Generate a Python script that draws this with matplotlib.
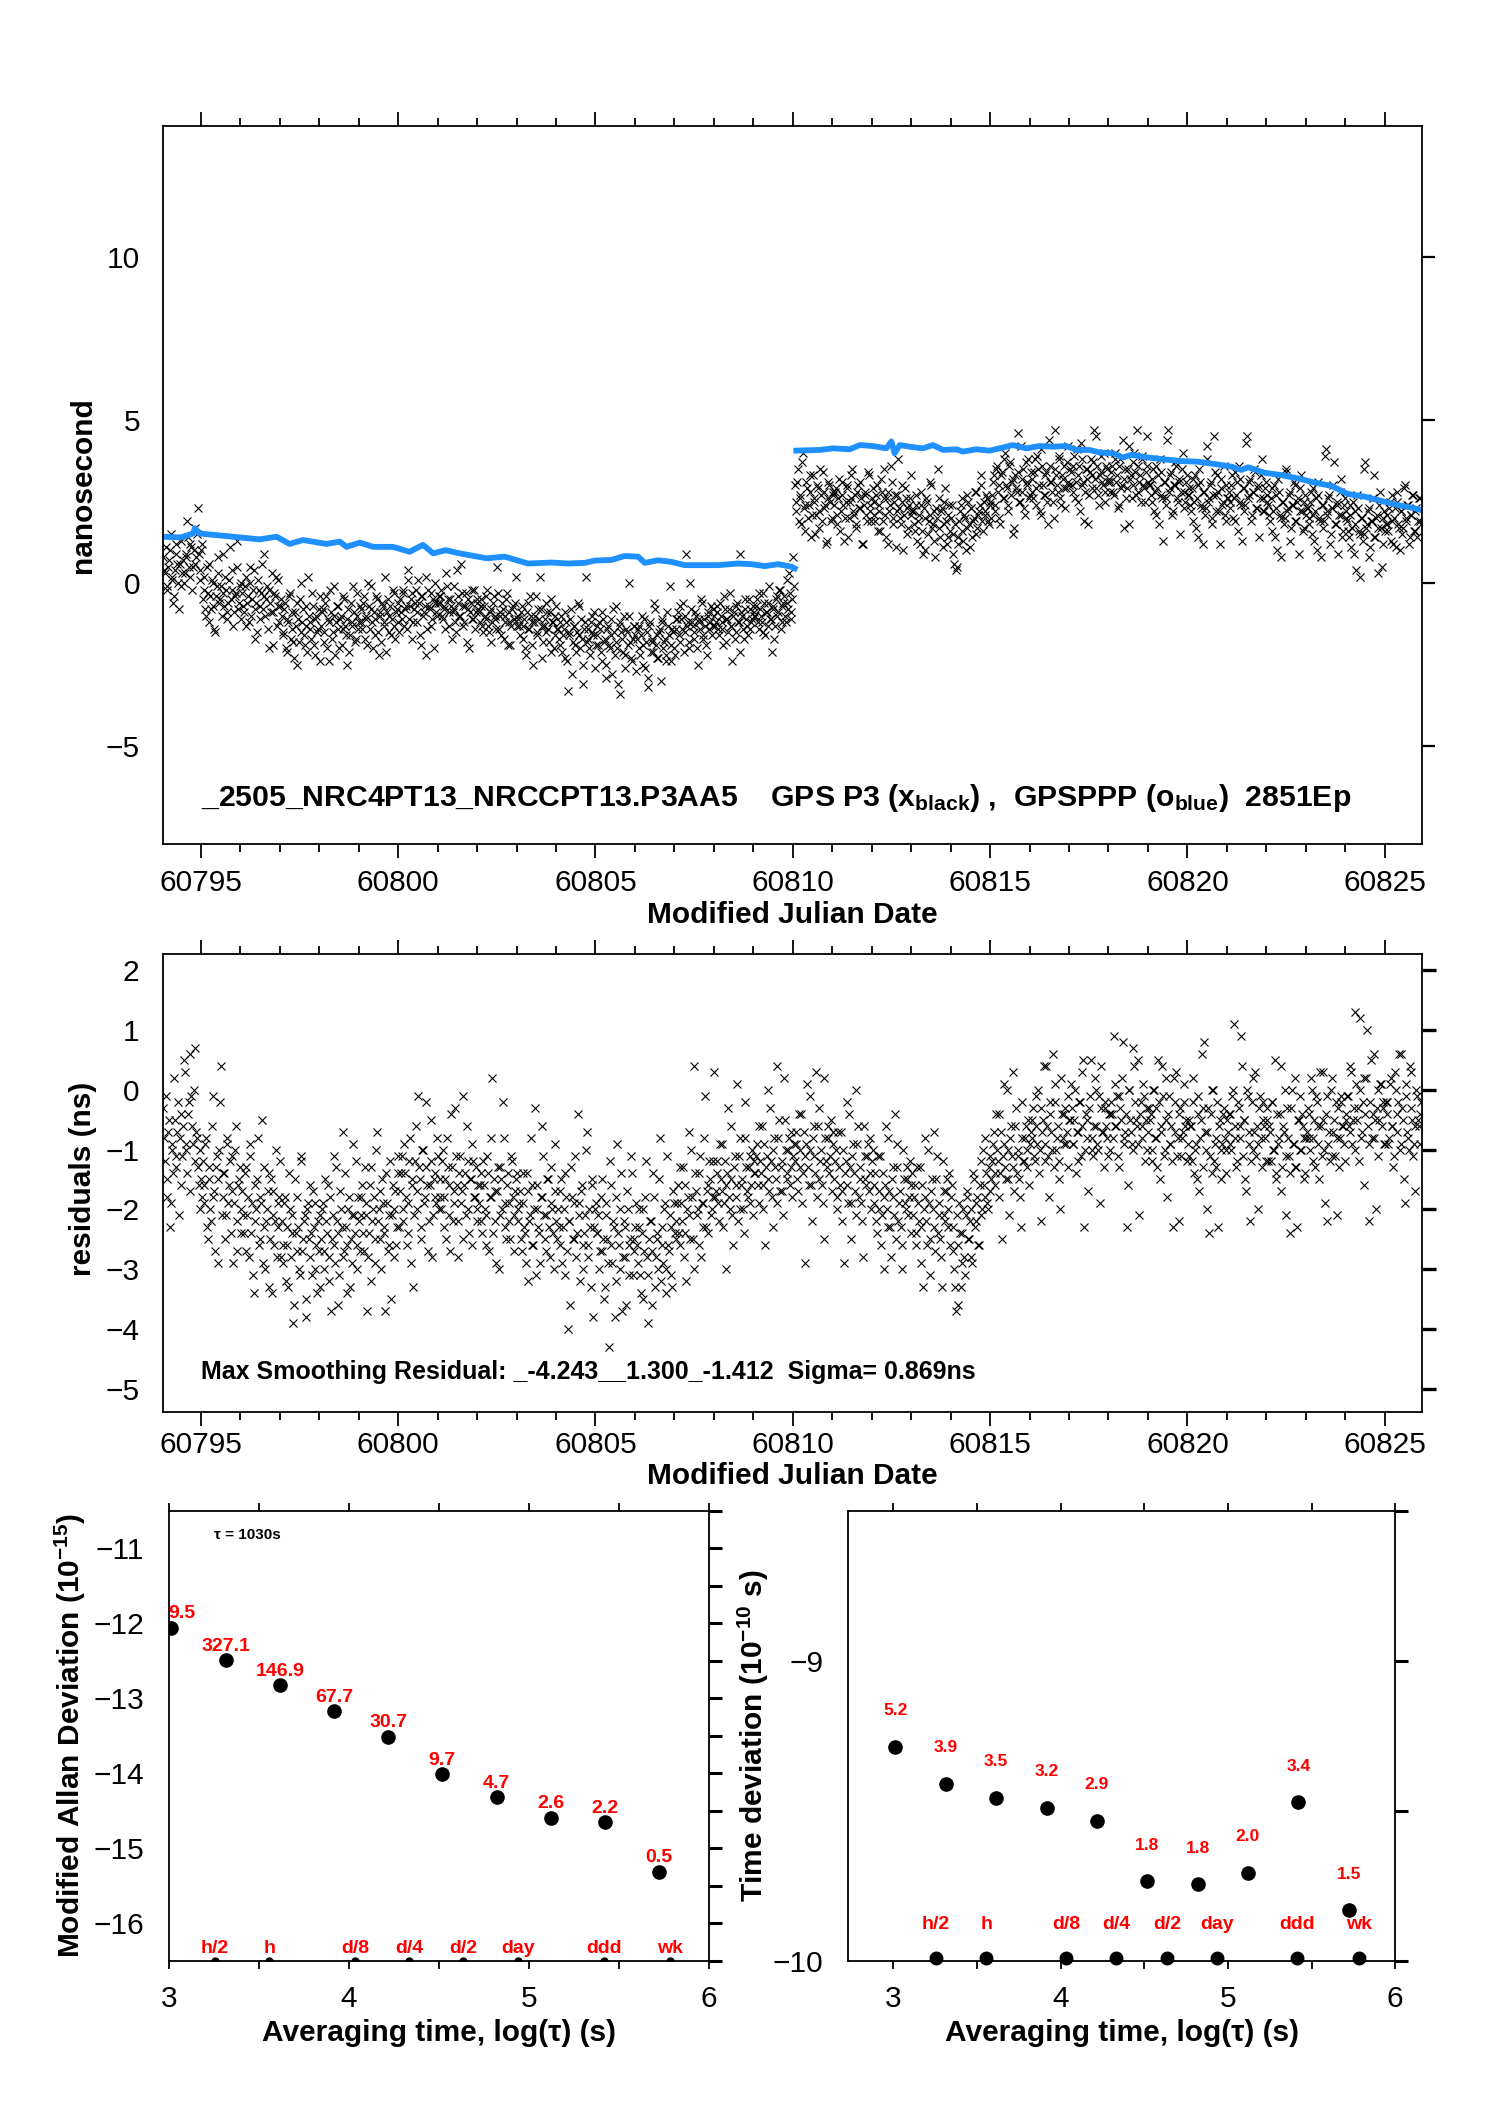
import numpy as np
import matplotlib
matplotlib.use("Agg")
import matplotlib.pyplot as plt
from matplotlib.ticker import MultipleLocator, FormatStrFormatter

plt.rcParams['font.family'] = ['Liberation Sans', 'DejaVu Sans']
plt.rcParams['mathtext.fontset'] = 'custom'
plt.rcParams['mathtext.rm'] = 'Liberation Sans'
plt.rcParams['mathtext.bf'] = 'Liberation Sans:bold'
plt.rcParams['mathtext.it'] = 'Liberation Sans:italic'

# GPS P3 samples, one per hour from T0, values in 0.1 ns (one row per day)
T0 = 60794.05
DT = 1.0 / 24
P3_ROWS = [
    "8 3 -2 5 10 1 -6 4 12 0 6 -1 7 3 9 14 2 11 5 17 8 23 4 10",
    "-5 2 -10 -3 6 -8 0 -14 -4 3 -6 -1 9 -7 -2 -11 1 -5 4 -9 -3 13 -6 0",
    "-3 -9 2 -6 -12 0 -5 4 -8 -15 -2 -7 6 -4 -10 -1 -20 -6 3 -9 -4 -13 1 -7",
    "-10 -16 -6 -21 -12 -3 -14 -18 -9 -25 -11 -5 -15 -8 -19 -13 2 -12 -17 -7 -22 -10 -14 -4",
    "-13 -8 -18 -4 -11 -24 -9 -15 -1 -12 -7 -20 -10 -14 -5 -16 -11 -21 -6 -13 -9 -17 -3 -12",
    "-8 -14 -4 -11 -19 -7 -1 -12 -9 -16 -5 -22 -10 -6 -13 2 -9 -15 -7 -11 -3 -17 -8 -12",
    "-5 -11 -2 -8 -14 4 -7 -3 -12 -6 -9 1 -16 -4 -10 -7 -22 -2 -8 -13 -5 0 -9 -6",
    "-6 -2 -11 -8 3 -5 -13 -7 -9 -1 -15 -4 -10 6 -7 -12 -3 -8 -20 -6 -11 -2 -9 -5",
    "-9 -5 -13 -7 -11 -2 -15 -8 -12 -4 -10 5 -14 -9 -6 -17 -10 -3 -12 -19 -8 -11 -6 -13",
    "-11 -16 -7 -13 -20 -9 -14 -4 -12 -25 -10 -15 -8 2 -13 -18 -11 -6 -14 -9 -21 -12 -16 -7",
    "-14 -19 -10 -16 -23 -12 -33 -15 -8 -18 -13 -21 -6 -16 -11 -25 -14 2 -17 -20 -12 -15 -9 -19",
    "-16 -12 -21 -9 -18 -25 -14 -19 -11 -28 -15 -7 -20 -13 -34 -17 -10 -22 -15 0 -18 -24 -13 -16",
    "-17 -13 -22 -10 -19 -26 -15 -32 -12 -18 -21 -8 -16 -23 -14 -11 -20 -17 -24 -13 -1 -19 -15 -22",
    "-14 -9 -18 -11 -6 -15 9 -12 -20 -8 -13 -17 -10 -25 -12 -5 -16 -11 -19 -9 -14 -7 -13 -10",
    "-12 -7 -16 -10 -14 -4 -18 -11 -8 -13 -24 -9 -15 -6 -12 9 -10 -17 -8 -13 -5 -14 -11 -9",
    "-10 -5 -14 -8 -12 -3 -16 -9 -6 -11 -21 -7 -13 -4 -9 -2 -12 -6 -10 1 -8 -3 -11 8",
    "30 22 35 26 18 40 24 31 20 28 14 33 25 21 29 17 27 34 23 12 26 30 19 28",
    "24 29 18 32 22 27 13 25 30 20 26 35 21 17 28 23 31 12 24 27 19 33 22 26",
    "25 19 30 22 16 28 35 21 26 12 24 31 18 27 22 38 20 25 10 29 23 17 26 21",
    "22 16 27 19 12 24 9 20 26 15 21 30 18 13 23 35 17 22 11 25 19 14 24 20",
    "15 6 4 12 19 24 16 21 10 27 18 23 14 20 28 17 22 33 19 25 21 26 18 24",
    "27 33 22 36 30 18 34 26 40 29 24 37 31 15 33 28 46 25 32 35 21 30 38 27",
    "32 26 38 29 35 22 41 30 27 34 18 36 31 25 47 33 28 39 24 32 36 29 42 30",
    "34 28 39 31 25 36 43 30 19 35 32 27 38 33 47 29 36 24 34 31 40 28 35 32",
    "31 36 27 40 33 24 38 30 17 35 29 42 32 26 37 34 47 28 33 39 30 25 36 31",
    "30 25 35 28 21 33 38 27 13 31 26 47 29 34 22 30 36 25 32 28 40 23 31 27",
    "27 22 32 25 17 30 35 24 12 28 23 38 26 31 20 45 27 33 22 29 24 36 19 26",
    "28 23 33 26 19 31 36 25 13 29 24 45 27 32 21 28 34 23 30 26 38 22 29 25",
    "24 19 29 22 14 27 32 21 8 25 20 35 23 28 17 24 30 19 26 22 33 16 25 21",
    "23 18 28 21 13 26 31 20 8 24 19 41 22 27 15 23 37 18 25 21 32 14 24 20",
    "19 14 24 17 9 22 27 16 2 20 15 37 18 23 11 19 33 14 21 17 28 5 20 16",
    "21 16 25 19 12 23 28 18 10 22 17 30 20 24 14 21 27 16 23 19 26 18",
]
# second set, half an hour later
P3_ROWS_B = [
    "4 11 -1 7 15 2 -4 9 6 -8 13 3 0 8 19 5 12 -2 10 6 15 9 1 12",
    "-2 -8 5 -12 -4 1 -7 -15 -1 8 -5 -10 -3 2 -9 -6 11 -2 -13 -4 5 -8 -1 -11",
    "-7 -1 -13 -4 5 -10 -2 -17 -6 1 -11 -3 -8 9 -5 -14 -2 -9 -19 -3 2 -7 -12 -5",
    "-15 -8 -20 -11 -4 -17 -9 -23 -13 -6 -18 0 -12 -16 -7 -21 -10 -14 -3 -19 -11 -15 -8 -24",
    "-9 -15 -6 -20 -12 -2 -17 -10 -22 -7 -14 -11 -19 -4 -13 -25 -8 -16 -12 -1 -18 -10 -14 -7",
    "-12 -6 -17 -10 0 -14 -8 -20 -11 -4 -15 -9 -18 -7 -12 -21 -5 -10 -16 -2 -13 -9 -6 -15",
    "-9 -3 -13 -7 1 -11 -5 -17 -8 -2 -12 -6 -19 -4 -9 2 -14 -7 -3 -11 -20 -6 -10 -4",
    "-4 -10 -7 -14 -1 -9 -5 -17 -8 -12 4 -6 -10 -3 -13 -7 -18 -5 -9 -2 -11 -14 -6 -8",
    "-12 -7 -15 -10 -4 -13 -9 -18 -6 -11 -14 -3 -10 -16 -8 -12 -5 -19 -9 -13 -7 -11 2 -10",
    "-13 -9 -17 -11 -22 -6 -14 -10 -19 -12 -4 -16 -11 -8 -23 -13 -15 -9 -18 -5 -12 -20 -10 -14",
    "-17 -12 -21 -14 -9 -24 -16 -11 -28 -13 -19 -15 -7 -20 -17 -31 -12 -18 -14 -22 -10 -16 -26 -13",
    "-19 -14 -24 -11 -17 -29 -13 -20 -16 -8 -22 -18 -31 -12 -15 -21 -26 -14 -19 -10 -23 -17 -13 -27",
    "-14 -20 -16 -25 -11 -18 -29 -13 -21 -17 -6 -19 -23 -15 -30 -12 -18 -22 -9 -16 -24 -14 -20 -11",
    "-11 -16 -7 -14 -21 -10 -13 -18 0 -12 -15 -9 -20 -11 -14 -6 -17 -13 -22 -10 -12 -16 -8 -13",
    "-9 -14 -6 -12 -19 -8 -11 -15 -3 -13 -10 -17 -7 -12 -21 -9 -14 -5 -11 -16 -8 -12 -7 -10",
    "-7 -12 -3 -10 -15 -6 -9 -13 -1 -11 -8 -17 -5 -10 -2 -14 -7 -4 -12 -6 3 -9 -5 -1",
    "25 31 19 27 37 23 16 29 24 33 21 26 15 30 22 35 19 28 24 13 31 25 20 27",
    "28 21 26 16 31 24 20 29 14 25 33 22 27 18 30 23 26 12 28 21 34 24 19 29",
    "21 27 16 24 32 19 26 14 28 22 36 20 25 11 27 23 18 30 21 26 15 24 33 22",
    "18 24 13 21 28 16 23 10 25 19 31 17 22 8 20 26 14 23 18 29 12 21 16 24",
    "9 18 5 14 22 26 13 20 17 25 11 23 19 28 15 21 24 30 16 22 27 19 25 20",
    "31 24 35 28 20 33 26 38 30 22 36 27 32 17 29 34 25 42 28 23 37 31 26 34",
    "28 34 24 39 30 21 36 27 33 25 44 31 28 20 35 30 38 26 33 29 23 37 31 35",
    "30 36 26 41 33 22 38 31 28 35 18 34 29 37 32 45 27 33 39 30 25 36 31 28",
    "34 28 38 31 23 36 29 44 32 26 35 18 33 30 40 27 36 31 25 38 29 34 45 30",
    "27 32 22 36 29 18 34 26 31 24 44 28 33 21 30 37 26 31 15 35 28 25 33 29",
    "24 29 19 33 26 14 31 23 28 21 42 25 30 18 27 34 22 28 12 32 25 21 30 26",
    "25 30 20 34 27 16 32 24 29 22 43 26 31 19 28 35 23 29 14 33 26 22 31 27",
    "21 26 16 30 23 10 28 20 25 18 34 22 27 13 24 31 19 25 9 29 22 17 27 23",
    "20 25 15 29 22 10 27 19 24 17 39 21 26 12 23 30 18 24 9 28 21 16 26 22",
    "16 21 11 25 18 4 23 15 20 13 35 17 22 8 19 26 14 20 3 24 17 12 22 18",
    "18 23 13 27 20 11 25 17 22 15 29 19 24 12 21 27 16 22 14 26 19",
]

# smoothing residuals, same sampling, 0.1 ns
RES_ROWS = [
    "-3 -12 -18 -7 -23 -9 -14 -5 -11 -2 -8 -16 -6 3 -10 -4 6 -1 -9 7 -7 -13 -20 -15",
    "-12 -19 -8 -25 -15 -22 -1 -17 -13 -29 -10 4 -18 -14 -21 -9 -16 -24 -11 -19 -6 -27 -15 -20",
    "-17 -24 -13 -21 -28 -9 -19 -34 -22 -15 -26 -18 -5 -23 -30 -20 -14 -25 -34 -17 -22 -28 -19 -12",
    "-22 -29 -18 -26 -33 -20 -24 -39 -15 -27 -23 -31 -11 -25 -21 -35 -19 -28 -24 -17 -30 -26 -22 -33",
    "-25 -19 -30 -22 -16 -28 -37 -21 -26 -13 -24 -31 -20 -7 -27 -23 -34 -18 -25 -29 -21 -12 -26 -22",
    "-21 -16 -27 -19 -37 -24 -13 -22 -18 -29 -7 -20 -25 -15 -23 -37 -19 -26 -12 -21 -28 -17 -23 -14",
    "-17 -11 -22 -14 -26 -19 -8 -16 -33 -12 -20 -1 -15 -23 -10 -18 -13 -27 -16 -5 -21 -14 -19 -11",
    "-15 -20 -10 -18 -25 -13 -16 -4 -22 -17 -11 -28 -14 -19 -1 -16 -21 -12 -24 -15 -9 -18 -13 -20",
    "-19 -14 -24 -16 -21 -11 -27 -18 2 -15 -22 -17 -30 -13 -20 -8 -23 -16 -19 -25 -12 -21 -17 -14",
    "-22 -17 -27 -19 -24 -14 -32 -21 -16 -26 -3 -20 -23 -29 -18 -11 -25 -21 -15 -28 -19 -24 -9 -22",
    "-20 -26 -15 -23 -31 -18 -40 -22 -13 -25 -19 -28 -4 -21 -17 -30 -24 -10 -26 -20 -33 -16 -23 -19",
    "-24 -30 -18 -27 -35 -21 -25 -43 -16 -29 -23 -32 -9 -26 -20 -37 -22 -28 -17 -31 -25 -14 -27 -23",
    "-26 -20 -31 -24 -35 -18 -28 -39 -22 -27 -14 -33 -25 -30 -8 -23 -29 -19 -34 -26 -21 -31 -17 -24",
    "-22 -16 -26 -19 -13 -24 -32 -18 -21 -10 -25 4 -17 -20 -14 -28 -19 -8 -23 -16 -12 -21 -18 3",
    "-17 -12 -22 -15 -9 -19 -30 -14 -18 -6 -21 -13 -16 1 -11 -20 -15 -24 -8 -17 -13 -19 -10 -14",
    "-14 -9 -19 -12 -6 -16 -26 -11 -15 -3 -18 -10 -13 4 -8 -17 -12 -21 -5 -14 -10 -16 -7 -11",
    "-12 -7 -17 -10 -4 -14 -29 -9 -13 -1 -16 -8 -11 3 -6 -15 -10 -19 2 -12 -8 -14 -5 -9",
    "-15 -10 -20 -13 -7 -17 -29 -12 -16 -4 -19 -11 -14 0 -9 -18 -13 -22 -6 -15 -11 -17 -8 -12",
    "-19 -14 -24 -17 -11 -21 -30 -16 -20 -8 -23 -15 -18 -4 -13 -22 -17 -26 -10 -19 -15 -21 -12 -16",
    "-21 -16 -26 -19 -13 -23 -33 -18 -22 -10 -25 -17 -20 -7 -15 -24 -19 -28 -12 -21 -17 -23 -14 -18",
    "-23 -30 -37 -26 -19 -33 -24 -28 -21 -17 -25 -20 -29 -15 -22 -18 -26 -12 -20 -16 -8 -19 -13 -17",
    "-12 -7 -16 -10 -4 -14 -25 -9 -13 0 -15 -8 -11 3 -6 -14 -10 -18 -2 -12 -8 -13 -5 -9",
    "-8 -3 -12 -6 0 -10 -22 -5 -9 4 -11 -4 -7 6 -2 -10 -6 -15 2 -8 -4 -9 -1 -5",
    "1 -9 -5 -14 -7 -2 -11 3 -23 -4 -8 -3 5 -10 -6 0 -9 -1 4 -7 -13 -3 -8 -4",
    "-10 -4 9 -6 -1 -13 -3 2 -8 -7 -23 0 -5 -9 7 -2 -6 5 -4 -8 1 -12 -3 -7",
    "-5 -12 0 -8 -3 5 -15 -7 -1 -10 2 -4 -9 -6 -23 -2 3 -8 -4 -11 -7 1 -5 -9",
    "-11 -6 2 -14 -9 -1 -17 -5 -3 8 -10 -7 -24 -4 0 -12 -8 -2 -6 -15 -9 -3 -10 -5",
    "-4 -9 -1 11 -6 -12 -3 -8 4 -5 -15 0 -7 -22 -2 -10 3 -6 -9 -1 -13 -5 -8 -3",
    "-12 -7 -2 -10 5 -14 -9 -4 -17 -6 0 -11 -8 -24 -3 -9 2 -13 -5 -1 -10 -6 -15 -8",
    "-3 -8 2 -12 -5 -1 -9 -15 -6 3 -10 -4 -22 -7 0 -11 -5 -2 -8 -13 -1 -6 -9 -4",
    "-1 -6 4 -9 -3 13 -5 -12 0 -7 2 -4 10 -22 -2 -8 6 -5 -3 -11 1 -6 -2 -9",
    "-4 -9 1 -6 -13 3 -7 -2 -10 6 -5 -19 -1 -8 4 -3 -11 -6 0 -5 -9 -2",
]
RES_ROWS_B = [
    "-8 -1 -15 -5 -19 -10 2 -13 -7 -21 -4 -11 5 -9 -14 -2 -17 -6 0 -12 -8 -16 -10 -18",
    "-16 -9 -23 -13 -20 -6 -18 -27 -11 -15 -2 -21 -14 -25 -8 -19 -12 -17 -29 -10 -22 -16 -13 -24",
    "-21 -14 -27 -18 -11 -24 -31 -16 -20 -8 -25 -19 -29 -13 -22 -17 -33 -15 -21 -26 -10 -23 -18 -28",
    "-26 -19 -32 -23 -14 -28 -21 -36 -24 -18 -30 -12 -27 -22 -38 -20 -25 -16 -31 -23 -19 -34 -27 -21",
    "-20 -27 -15 -24 -32 -18 -25 -11 -29 -22 -36 -17 -23 -28 -14 -26 -20 -33 -21 -9 -24 -30 -18 -27",
    "-18 -24 -13 -21 -28 -16 -32 -20 -25 -10 -22 -17 -30 -19 -24 -14 -27 -21 -35 -16 -20 -26 -11 -23",
    "-14 -20 -9 -18 -24 -12 -29 -15 -21 -6 -17 -13 -25 -10 -19 -2 -16 -22 -12 -28 -15 -18 -8 -20",
    "-18 -12 -23 -15 -8 -21 -27 -13 -19 -3 -16 -22 -11 -17 -25 -14 -6 -20 -15 -26 -12 -18 -22 -16",
    "-16 -22 -12 -20 -26 -14 -18 -8 -24 -17 -29 -13 -21 -15 -2 -19 -25 -14 -22 -11 -18 -27 -15 -20",
    "-19 -25 -14 -23 -29 -17 -22 -8 -26 -20 -31 -16 -24 -18 -6 -21 -27 -15 -23 -13 -20 -30 -17 -25",
    "-23 -17 -29 -20 -14 -27 -22 -36 -18 -25 -11 -24 -19 -32 -16 -26 -21 -7 -28 -23 -15 -38 -20 -24",
    "-21 -27 -15 -25 -33 -19 -29 -12 -26 -22 -38 -18 -24 -30 -14 -28 -23 -36 -20 -26 -11 -31 -25 -19",
    "-29 -23 -34 -20 -27 -12 -31 -25 -22 -36 -18 -28 -24 -15 -32 -26 -20 -30 -11 -27 -23 -33 -19 -25",
    "-19 -24 -13 -22 -28 -16 -20 -7 -25 -18 -30 -14 -21 -26 -11 -19 -23 -1 -17 -24 -15 -20 -12 -18",
    "-14 -19 -9 -17 -23 -12 -16 -3 -20 -15 -26 -11 -18 -22 -8 -16 -20 -2 -13 -18 -11 -16 -21 -12",
    "-11 -16 -6 -14 -20 -9 -13 0 -17 -12 -23 -8 -15 -19 -5 -13 -17 2 -10 -15 -8 -13 -18 -9",
    "-9 -15 -4 -13 -19 -7 -11 1 -16 -10 -22 -6 -14 -18 -3 -12 -16 -25 -8 -13 -6 -11 -17 -7",
    "-12 -18 -7 -16 -22 -10 -14 -2 -19 -13 -25 -9 -17 -21 -6 -15 -19 -28 -11 -16 -9 -14 -20 -10",
    "-16 -22 -11 -20 -26 -14 -18 -6 -23 -17 -28 -13 -21 -25 -9 -19 -23 -30 -15 -20 -13 -18 -24 -14",
    "-18 -24 -13 -22 -29 -16 -20 -8 -26 -19 -31 -15 -23 -27 -11 -21 -25 -33 -17 -22 -15 -20 -26 -16",
    "-27 -33 -21 -36 -24 -29 -20 -31 -18 -25 -22 -28 -14 -23 -19 -26 -16 -21 -10 -18 -14 -20 -11 -15",
    "-9 -14 -4 -12 -18 -7 -11 1 -15 -10 -21 -6 -13 -17 -3 -11 -15 -23 -8 -12 -6 -10 -16 -7",
    "-5 -11 -1 -9 -14 -3 -7 4 -12 -6 -18 -2 -10 -13 1 -8 -12 -20 -4 -9 -3 -7 -13 -5",
    "-3 -9 0 -7 -12 -2 -6 5 -10 -5 -17 -1 -8 -11 2 -6 -10 -19 -3 -7 -2 -6 -11 -4",
    "-2 -8 1 -6 -11 -1 -5 8 -9 -4 -16 0 -7 -10 4 -5 -9 -21 -2 -6 -1 -5 -10 -3",
    "-4 -10 0 -8 -13 -2 -6 4 -11 -5 -18 -1 -9 -12 2 -7 -11 -22 -3 -8 -2 -6 -12 -5",
    "-6 -12 -2 -10 -15 -4 -8 6 -13 -7 -20 -3 -11 -14 0 -9 -13 -23 -5 -10 -4 -8 -14 -7",
    "-4 -10 0 -8 -13 -2 -6 9 -11 -5 -17 -1 -9 -12 2 -7 -11 -20 -3 -8 -2 -6 -12 -5",
    "-6 -12 -2 -10 -15 -4 -8 4 -13 -7 -21 -3 -11 -14 0 -9 -13 -23 -5 -10 -4 -8 -14 -7",
    "-4 -10 0 -8 -13 -2 -6 3 -11 -5 -19 -1 -9 -12 2 -7 -11 -21 -3 -8 -2 -6 -12 -5",
    "-1 -7 3 -5 -10 1 -3 12 -8 -2 -16 2 -6 -9 5 -4 -8 -20 0 -5 1 -3 -9 -2",
    "-2 -8 2 -6 -11 0 -4 6 -9 -3 -15 1 -7 -10 3 -5 -9 -17 -1 -6 -4",
]

# GPSPPP (blue) curve, nan marks the step at 60810
BLUE_MJD = [60794.03, 60794.50, 60794.80, 60794.85, 60794.97, 60795.65, 60796.49, 60796.92,
            60797.25, 60797.59, 60798.18, 60798.52, 60798.69, 60799.03, 60799.37, 60799.87,
            60800.29, 60800.63, 60800.89, 60801.20, 60801.56, 60802.24, 60802.70, 60803.29,
            60803.88, 60804.31, 60804.73, 60804.98, 60805.41, 60805.74, 60806.08, 60806.25,
            60806.59, 60806.93, 60807.26, 60807.69, 60808.11, 60808.61, 60808.95, 60809.29,
            60809.63, 60809.97, 60810.05, 60810.07,
            60810.09, 60810.68, 60811.02, 60811.44, 60811.70, 60812.03, 60812.37, 60812.50,
            60812.58, 60812.71, 60812.96, 60813.30, 60813.55, 60813.81, 60814.15, 60814.31,
            60814.65, 60814.99, 60815.24, 60815.58, 60815.92, 60816.26, 60816.59, 60816.93,
            60817.19, 60817.52, 60817.78, 60818.11, 60818.37, 60818.58, 60819.00, 60819.42,
            60819.85, 60820.27, 60820.69, 60821.11, 60821.37, 60821.54, 60821.96, 60822.38,
            60822.80, 60823.22, 60823.65, 60824.07, 60824.49, 60824.91, 60825.34, 60825.76,
            60825.93]
BLUE_NS = [1.42, 1.40, 1.52, 1.68, 1.52, 1.44, 1.34, 1.42,
           1.20, 1.32, 1.20, 1.27, 1.11, 1.24, 1.11, 1.11,
           0.96, 1.17, 0.91, 1.01, 0.91, 0.76, 0.81, 0.60,
           0.63, 0.60, 0.62, 0.69, 0.71, 0.83, 0.81, 0.62,
           0.70, 0.65, 0.55, 0.55, 0.55, 0.60, 0.58, 0.52,
           0.58, 0.50, 0.45, np.nan,
           4.06, 4.08, 4.13, 4.10, 4.23, 4.20, 4.13, 4.34,
           3.98, 4.23, 4.18, 4.13, 4.23, 4.08, 4.10, 4.03,
           4.10, 4.06, 4.13, 4.23, 4.13, 4.20, 4.18, 4.20,
           4.08, 4.08, 4.00, 3.98, 3.85, 3.93, 3.85, 3.79,
           3.74, 3.72, 3.65, 3.57, 3.47, 3.55, 3.38, 3.31,
           3.21, 3.08, 2.98, 2.73, 2.65, 2.52, 2.39, 2.29,
           2.24]

# stability analysis
TAU_LOG = [3.013, 3.314, 3.615, 3.916, 4.217, 4.518, 4.819, 5.120, 5.421, 5.722]
MDEV = [-12.06, -12.49, -12.83, -13.17, -13.51, -14.01, -14.32, -14.59, -14.65, -15.31]
MDEV_LBL = ['9.5', '327.1', '146.9', '67.7', '30.7', '9.7', '4.7', '2.6', '2.2', '0.5']
TDEV = [-9.286, -9.410, -9.456, -9.490, -9.534, -9.735, -9.744, -9.706, -9.471, -9.831]
TDEV_LBL = ['5.2', '3.9', '3.5', '3.2', '2.9', '1.8', '1.8', '2.0', '3.4', '1.5']
MARK_LOG = [3.255, 3.556, 4.033, 4.334, 4.635, 4.936, 5.414, 5.782]
MARK_LBL = ['h/2', 'h', 'd/8', 'd/4', 'd/2', 'day', 'ddd', 'wk']


def unpack(rows):
    return np.array([int(v) for r in rows for v in r.split()]) / 10.0


def series(rows_a, rows_b):
    a = unpack(rows_a)
    b = unpack(rows_b)
    t = np.concatenate([T0 + DT * np.arange(len(a)), T0 + DT / 2 + DT * np.arange(len(b))])
    return t, np.concatenate([a, b])


mjd_p3, p3_ns = series(P3_ROWS, P3_ROWS_B)
mjd_res, res_ns = series(RES_ROWS, RES_ROWS_B)

RED = '#ff0000'
BLUE = '#1e90ff'
LW = 1.3
FS = 21.5

fig = plt.figure(figsize=(14.88, 21.05), dpi=100)
ax1 = fig.add_axes([0.1095, 0.599, 0.846, 0.341])
ax2 = fig.add_axes([0.1095, 0.329, 0.846, 0.218])
ax3 = fig.add_axes([0.1136, 0.0684, 0.363, 0.214])
ax4 = fig.add_axes([0.570, 0.0684, 0.3676, 0.214])

for ax in (ax1, ax2, ax3, ax4):
    for s in ax.spines.values():
        s.set_linewidth(LW)


def mjd_axis(ax, pad):
    ax.set_xlim(60794.04, 60825.94)
    ax.xaxis.set_major_locator(MultipleLocator(5))
    ax.xaxis.set_minor_locator(MultipleLocator(1))
    ax.xaxis.set_major_formatter(FormatStrFormatter('%d'))
    ax.tick_params(axis='x', which='both', direction='out', top=True, bottom=True,
                   width=LW, labelsize=FS)
    ax.tick_params(axis='x', which='major', length=10, pad=pad)
    ax.tick_params(axis='x', which='minor', length=5.5)
    ax.set_xlabel('Modified Julian Date', fontsize=FS, fontweight='bold')


# ---- top: raw data ----
ax1.plot(mjd_p3, p3_ns, 'x', color='black', ms=5.3, mew=0.8)
ax1.plot(BLUE_MJD, BLUE_NS, '-', color=BLUE, lw=4.2)
mjd_axis(ax1, 8)
ax1.set_ylim(-8, 14)
ax1.yaxis.set_major_locator(MultipleLocator(5))
ax1.tick_params(axis='y', which='major', left=False, right=True, direction='out',
                length=9.5, width=1.6, labelsize=FS, pad=7)
ax1.set_ylabel('nanosecond', fontsize=FS, fontweight='bold')
ax1.yaxis.set_label_coords(-0.052, 0.5)
ax1.xaxis.set_label_coords(0.5, -0.079)
ax1.text(60795.0, -6.6,
         r'_2505_NRC4PT13_NRCCPT13.P3AA5    GPS P3 (x$_{\mathbf{black}}$) ,  '
         r'GPSPPP (o$_{\mathbf{blue}}$)  2851Ep',
         fontsize=21.7, fontweight='bold', va='center', ha='left')

# ---- middle: residuals ----
ax2.plot(mjd_res, res_ns, 'x', color='black', ms=5.3, mew=0.8)
mjd_axis(ax2, 3)
ax2.set_ylim(-5.4, 2.28)
ax2.yaxis.set_major_locator(MultipleLocator(1))
ax2.tick_params(axis='y', which='major', left=False, right=True, direction='out',
                length=10, width=2.4, labelsize=FS, pad=7)
ax2.set_ylabel('residuals (ns)', fontsize=FS, fontweight='bold')
ax2.yaxis.set_label_coords(-0.052, 0.51)
ax2.xaxis.set_label_coords(0.5, -0.108)
ax2.text(60795.0, -4.73,
         'Max Smoothing Residual: _-4.243__1.300_-1.412  Sigma= 0.869ns',
         fontsize=18, fontweight='bold', va='center', ha='left')


def stab_axis(ax, ylo, yhi, xlo):
    ax.set_xlim(xlo, 6.0)
    ax.set_ylim(ylo, yhi)
    ax.xaxis.set_major_locator(MultipleLocator(1))
    ax.xaxis.set_minor_locator(MultipleLocator(0.5))
    ax.yaxis.set_minor_locator(MultipleLocator(0.5))
    ax.tick_params(axis='x', which='both', direction='out', top=True, bottom=True,
                   width=LW, labelsize=FS)
    ax.tick_params(axis='x', which='major', length=6, pad=11)
    ax.tick_params(axis='x', which='minor', length=6)
    ax.tick_params(axis='y', which='both', left=False, right=True, direction='out',
                   length=9, width=2.2, labelsize=FS)
    ax.tick_params(axis='y', which='major', pad=9)
    ax.set_xlabel('Averaging time, log(τ) (s)', fontsize=FS, fontweight='bold')


# ---- bottom left: modified Allan deviation ----
ax3.plot(TAU_LOG, MDEV, 'o', color='black', ms=9.5)
stab_axis(ax3, -16.5, -10.5, 3.0)
ax3.yaxis.set_major_locator(MultipleLocator(1))
for i, (x, y, s) in enumerate(zip(TAU_LOG, MDEV, MDEV_LBL)):
    ax3.annotate(s, (x, y), xytext=(-2 if i == 0 else 0, 10), textcoords='offset points',
                 ha='left' if i == 0 else 'center', va='center',
                 color=RED, fontsize=14, fontweight='bold')
ax3.plot(MARK_LOG, [-16.5] * len(MARK_LOG), 'o', color='black', ms=5)
for x, s in zip(MARK_LOG, MARK_LBL):
    ax3.text(x, -16.33, s, color=RED, fontsize=14, fontweight='bold', ha='center', va='center')
ax3.text(3.25, -10.82, 'τ = 1030s', fontsize=11, fontweight='bold', ha='left', va='center')
ax3.set_ylabel(r'Modified Allan Deviation (10$^{\mathbf{-15}}$)', fontsize=FS, fontweight='bold')
ax3.yaxis.set_label_coords(-0.15, 0.5)
ax3.xaxis.set_label_coords(0.5, -0.128)

# ---- bottom right: time deviation ----
ax4.plot(TAU_LOG, TDEV, 'o', color='black', ms=9.5)
stab_axis(ax4, -10.0, -8.5, 2.73)
ax4.yaxis.set_major_locator(MultipleLocator(1))
for x, y, s in zip(TAU_LOG, TDEV, TDEV_LBL):
    ax4.annotate(s, (x, y), xytext=(0, 26), textcoords='offset points',
                 ha='center', va='center', color=RED, fontsize=12.5, fontweight='bold')
ax4.plot(MARK_LOG, [-9.99] * len(MARK_LOG), 'o', color='black', ms=9, clip_on=False)
for x, s in zip(MARK_LOG, MARK_LBL):
    ax4.text(x, -9.88, s, color=RED, fontsize=14, fontweight='bold', ha='center', va='center')
ax4.set_ylabel(r'Time deviation (10$^{\mathbf{-10}}$ s)', fontsize=FS, fontweight='bold')
ax4.yaxis.set_label_coords(-0.141, 0.5)
ax4.xaxis.set_label_coords(0.5, -0.128)

fig.savefig('out.png', dpi=100)
